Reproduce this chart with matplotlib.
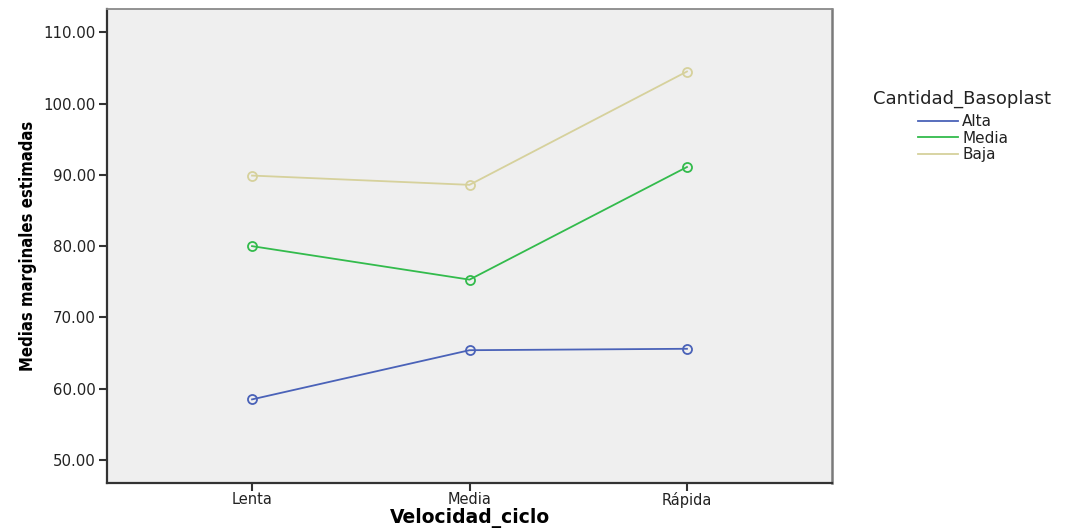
import matplotlib
matplotlib.use("Agg")
import matplotlib.pyplot as plt
from matplotlib.lines import Line2D

categories = ["Lenta", "Media", "Rápida"]
series_names = ["Alta", "Media", "Baja"]
alta = [58.5, 65.4, 65.6]
media = [80.0, 75.3, 91.1]
baja = [89.9, 88.6, 104.5]
series_values = [alta, media, baja]
colors = ["#4a62b8", "#33bb4c", "#d6d19c"]
yticks = [50, 60, 70, 80, 90, 100, 110]

plt.rcParams['font.family'] = ['DejaVu Sans']

fig = plt.figure(figsize=(10.66, 5.31), dpi=100)
fig.patch.set_facecolor("white")
ax = fig.add_axes([107/1066, 1-483/531, (832-107)/1066, (483-9)/531])
ax.set_facecolor("#efefef")

x = list(range(len(categories)))
handles = []
for name, vals, c in zip(series_names, series_values, colors):
    ax.plot(x, vals, color=c, lw=1.3, marker='o', markersize=6.5,
            markerfacecolor='none', markeredgecolor=c, markeredgewidth=1.3)
    handles.append(Line2D([0], [0], color=c, lw=1.3))

ax.set_xlim(-0.667, 2.667)
ax.set_ylim(46.77, 113.27)
ax.set_xticks(x)
ax.set_xticklabels(categories, fontsize=10.5, color="#222222")
ax.set_yticks(yticks)
ax.set_yticklabels([f"{v:.2f}" for v in yticks], fontsize=10.8, color="#222222")
ax.tick_params(axis='both', direction='out', length=6, width=1.5, color="#333333", pad=2)
ax.tick_params(axis='x', pad=0.5)

for side in ["left", "bottom"]:
    ax.spines[side].set_color("#333333")
    ax.spines[side].set_linewidth(1.6)
ax.spines["right"].set_color("#7a7a7a")
ax.spines["right"].set_linewidth(1.8)
ax.spines["top"].set_color("#8a8a8a")
ax.spines["top"].set_linewidth(1.3)

ax.set_xlabel("Velocidad_ciclo", fontsize=13.5, fontweight='bold', labelpad=0)
ax.set_ylabel("Medias marginales estimadas", fontsize=12, fontweight='bold',
              fontstretch='condensed', labelpad=5)

fig.text(962/1066, 1-99/531, "Cantidad_Basoplast", fontsize=13, ha='center', va='center',
         color="#222222")
leg = fig.legend(handles, series_names, loc='upper left',
                 bbox_to_anchor=(918/1066, 1-114/531), frameon=False, fontsize=11,
                 handlelength=2.6, handletextpad=0.3, labelspacing=0.1, borderpad=0,
                 borderaxespad=0)
for t in leg.get_texts():
    t.set_color("#222222")

fig.savefig("out.png", dpi=100)
